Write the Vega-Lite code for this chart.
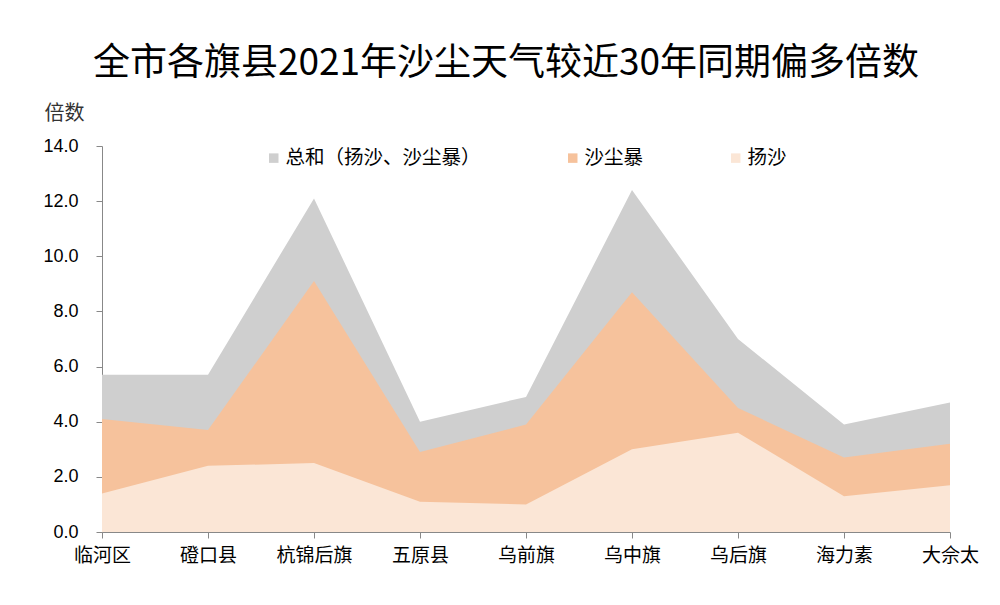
{
  "$schema": "https://vega.github.io/schema/vega-lite/v6.json",
  "width": 848,
  "height": 386,
  "autosize": {"type": "none"},
  "padding": {"left": 102, "top": 146, "right": 50, "bottom": 73},
  "background": "white",
  "config": {"view": {"stroke": null}, "font": "Noto Sans CJK SC"},
  "title": {
    "text": "全市各旗县2021年沙尘天气较近30年同期偏多倍数",
    "font": "Noto Sans CJK SC",
    "fontSize": 37,
    "fontWeight": "normal",
    "color": "#000000",
    "anchor": "middle",
    "dx": -20,
    "offset": 20
  },
  "data": {
    "values": [
      {"site": "临河区", "series": "总和（扬沙、沙尘暴）", "value": 5.7},
      {"site": "磴口县", "series": "总和（扬沙、沙尘暴）", "value": 5.7},
      {"site": "杭锦后旗", "series": "总和（扬沙、沙尘暴）", "value": 12.1},
      {"site": "五原县", "series": "总和（扬沙、沙尘暴）", "value": 4.0},
      {"site": "乌前旗", "series": "总和（扬沙、沙尘暴）", "value": 4.9},
      {"site": "乌中旗", "series": "总和（扬沙、沙尘暴）", "value": 12.4},
      {"site": "乌后旗", "series": "总和（扬沙、沙尘暴）", "value": 7.0},
      {"site": "海力素", "series": "总和（扬沙、沙尘暴）", "value": 3.9},
      {"site": "大佘太", "series": "总和（扬沙、沙尘暴）", "value": 4.7},
      {"site": "临河区", "series": "沙尘暴", "value": 4.1},
      {"site": "磴口县", "series": "沙尘暴", "value": 3.7},
      {"site": "杭锦后旗", "series": "沙尘暴", "value": 9.1},
      {"site": "五原县", "series": "沙尘暴", "value": 2.9},
      {"site": "乌前旗", "series": "沙尘暴", "value": 3.9},
      {"site": "乌中旗", "series": "沙尘暴", "value": 8.7},
      {"site": "乌后旗", "series": "沙尘暴", "value": 4.5},
      {"site": "海力素", "series": "沙尘暴", "value": 2.7},
      {"site": "大佘太", "series": "沙尘暴", "value": 3.2},
      {"site": "临河区", "series": "扬沙", "value": 1.4},
      {"site": "磴口县", "series": "扬沙", "value": 2.4},
      {"site": "杭锦后旗", "series": "扬沙", "value": 2.5},
      {"site": "五原县", "series": "扬沙", "value": 1.1},
      {"site": "乌前旗", "series": "扬沙", "value": 1.0},
      {"site": "乌中旗", "series": "扬沙", "value": 3.0},
      {"site": "乌后旗", "series": "扬沙", "value": 3.6},
      {"site": "海力素", "series": "扬沙", "value": 1.3},
      {"site": "大佘太", "series": "扬沙", "value": 1.7}
    ]
  },
  "encoding": {
    "x": {
      "field": "site",
      "type": "ordinal",
      "sort": ["临河区", "磴口县", "杭锦后旗", "五原县", "乌前旗", "乌中旗", "乌后旗", "海力素", "大佘太"],
      "scale": {"type": "point", "padding": 0},
      "axis": {
        "title": null,
        "labelAngle": 0,
        "labelFontSize": 19,
        "labelColor": "#000000",
        "labelFont": "Noto Sans CJK SC",
        "labelPadding": 8,
        "domainColor": "#888888",
        "tickColor": "#888888",
        "tickSize": 6,
        "grid": false
      }
    },
    "y": {
      "field": "value",
      "type": "quantitative",
      "stack": null,
      "scale": {"domain": [0, 14], "nice": false},
      "axis": {
        "values": [0, 2, 4, 6, 8, 10, 12, 14],
        "format": ".1f",
        "grid": false,
        "labelFontSize": 18,
        "labelColor": "#000000",
        "labelFont": "Liberation Sans",
        "labelPadding": 18,
        "domainColor": "#888888",
        "tickColor": "#888888",
        "tickSize": 6,
        "title": "倍数",
        "titleAngle": 0,
        "titleX": -38,
        "titleY": -33,
        "titleAlign": "center",
        "titleBaseline": "middle",
        "titleFontSize": 20,
        "titleFontWeight": "normal",
        "titleColor": "#333333",
        "titleFont": "Noto Sans CJK SC"
      }
    },
    "color": {
      "field": "series",
      "type": "nominal",
      "scale": {
        "domain": ["总和（扬沙、沙尘暴）", "沙尘暴", "扬沙"],
        "range": ["#cfcfcf", "#f6c29c", "#fbe6d6"]
      },
      "legend": {
        "title": null,
        "orient": "none",
        "direction": "horizontal",
        "legendX": 162,
        "legendY": 2,
        "symbolType": "square",
        "symbolSize": 90,
        "symbolStrokeWidth": 0,
        "symbolOpacity": 1,
        "labelFontSize": 19.5,
        "labelLimit": 0,
        "labelColor": "#000000",
        "labelFont": "Noto Sans CJK SC",
        "labelOffset": 2,
        "columnPadding": 82
      }
    }
  },
  "layer": [
    {
      "transform": [{"filter": "datum.series === '总和（扬沙、沙尘暴）'"}],
      "mark": {"type": "area", "opacity": 1}
    },
    {
      "transform": [{"filter": "datum.series === '沙尘暴'"}],
      "mark": {"type": "area", "opacity": 1}
    },
    {
      "transform": [{"filter": "datum.series === '扬沙'"}],
      "mark": {"type": "area", "opacity": 1}
    }
  ]
}
